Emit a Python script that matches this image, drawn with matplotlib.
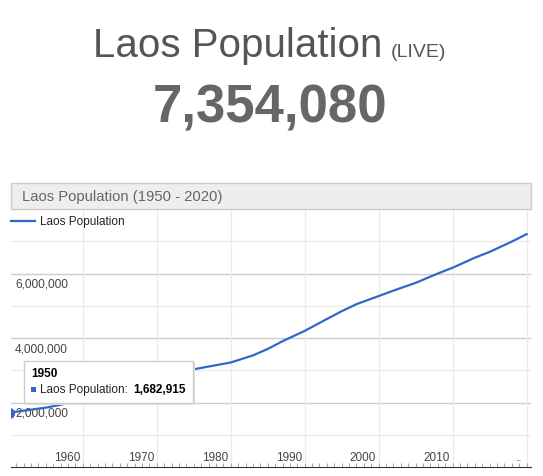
import numpy as np
import matplotlib.pyplot as plt
from matplotlib.patches import Rectangle
from matplotlib.transforms import ScaledTranslation, blended_transform_factory

plt.rcParams['font.family'] = ['Liberation Sans', 'DejaVu Sans']

# values
years = [1950, 1955, 1957, 1960, 1965, 1970, 1975, 1980, 1983, 1985, 1987, 1990, 1993,
         1995, 1997, 2000, 2002, 2005, 2008, 2010, 2013, 2015, 2018, 2020]
population = [1682915, 1840000, 1930000, 2090000, 2400000, 2720000, 3030000, 3240000,
              3460000, 3660000, 3900000, 4220000, 4590000, 4830000, 5050000, 5300000,
              5470000, 5710000, 6000000, 6180000, 6490000, 6670000, 6990000, 7220000]
decade_ticks = [1960, 1970, 1980, 1990, 2000, 2010, 2020]
decade_labels = ['1960', '1970', '1980', '1990', '2000', '2010', '..']
y_major = [2000000, 4000000, 6000000]
y_labels = ['2,000,000', '4,000,000', '6,000,000']
y_minor = [1000000, 3000000, 5000000, 7000000]

W, H = 543, 477
fig = plt.figure(figsize=(W / 100, H / 100), dpi=100)


def px(x, y):
    return x / W, 1 - y / H


# header
fig.text(*px(93, 56.7), 'Laos Population', fontsize=29, color='#555555', va='baseline', ha='left')
fig.text(*px(391, 56.7), '(LIVE)', fontsize=14, color='#555555', va='baseline', ha='left')
fig.text(*px(270, 122.7), '7,354,080', fontsize=38, fontweight='bold', color='#666666',
         va='baseline', ha='center')

# chart title bar
fig.patches.append(Rectangle(px(11, 209.5), 519.7 / W, 26 / H, transform=fig.transFigure,
                             facecolor='#eeeeee', edgecolor='#cccccc', lw=1))
fig.text(*px(22, 196.5), 'Laos Population (1950 - 2020)', fontsize=10.7, color='#666666',
         va='center', ha='left')

# plot area
left, right, top, bottom = 11, 530.7, 210, 468
ax = fig.add_axes([left / W, 1 - bottom / H, (right - left) / W, (bottom - top) / H])
ax.plot(years, population, color='#3366cc', lw=1.6, zorder=3)
ax.plot(years[0], population[0], 'o', color='#3366cc', ms=7, zorder=4)
ax.set_xlim(1950.3, 2020.55)
ax.set_ylim(0, 8000000)

for v in y_major:
    ax.axhline(v, color='#cccccc', lw=1, zorder=1)
for v in y_minor:
    ax.axhline(v, color='#ebebeb', lw=1, zorder=1)
for t in decade_ticks:
    ax.axvline(t, color='#ebebeb', lw=1, zorder=1)

for s in ['left', 'right', 'top']:
    ax.spines[s].set_visible(False)
ax.spines['bottom'].set_color('#333333')
ax.set_yticks([])
ax.set_xticks(range(1951, 2021), minor=True)
ax.set_xticks(decade_ticks)
ax.set_xticklabels([])
ax.tick_params(axis='x', which='both', direction='in', length=3, color='#aaaaaa', width=0.8)

ytrans = blended_transform_factory(ax.transAxes, ax.transData)
for v, lab in zip(y_major, y_labels):
    ax.text(0, v, lab, transform=ytrans + ScaledTranslation(4 / 100, -10 / 100, fig.dpi_scale_trans),
            fontsize=8.6, color='#444444', ha='left', va='center', zorder=2)

xtrans = blended_transform_factory(ax.transData, ax.transAxes)
for t, lab in zip(decade_ticks, decade_labels):
    dx = -16 if lab != '..' else -8
    ax.text(t, 0, lab, transform=xtrans + ScaledTranslation(dx / 100, 9.5 / 100, fig.dpi_scale_trans),
            fontsize=8.5, color='#444444', ha='center', va='center', zorder=2)

# legend
fig.lines.append(plt.Line2D([11 / W, 35 / W], [1 - 221.7 / H] * 2, transform=fig.transFigure,
                            color='#3366cc', lw=1.6))
fig.text(*px(40.5, 221.7), 'Laos Population', fontsize=8.5, color='#222222', va='center', ha='left')

# tooltip
shadow = Rectangle(px(25.5, 405.5), 169.3 / W, 42.3 / H, transform=fig.transFigure,
                   facecolor='#e2e2e2', edgecolor='none', zorder=5)
box = Rectangle(px(24, 404), 169.3 / W, 42.3 / H, transform=fig.transFigure,
                facecolor='white', edgecolor='#cccccc', lw=1, zorder=6)
fig.patches.extend([shadow, box])
fig.text(*px(31, 374.3), '1950', fontsize=8.5, fontweight='bold', color='#000000',
         va='center', ha='left', zorder=7)
fig.patches.append(Rectangle(px(31, 392.5), 5 / W, 5 / H, transform=fig.transFigure,
                             facecolor='#3366cc', edgecolor='none', zorder=7))
fig.text(*px(40.5, 390), 'Laos Population:', fontsize=8.5, color='#222222',
         va='center', ha='left', zorder=7)
fig.text(*px(133.5, 390), '1,682,915', fontsize=8.5, fontweight='bold', color='#000000',
         va='center', ha='left', zorder=7)

fig.savefig('out.png', dpi=100)
